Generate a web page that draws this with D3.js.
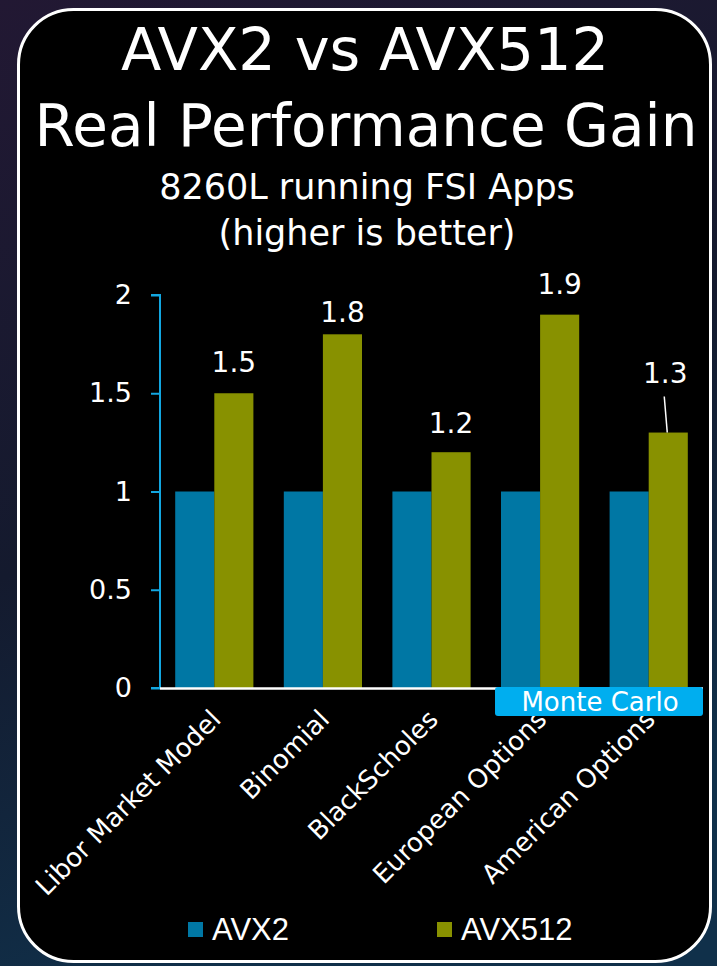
<!DOCTYPE html>
<html>
<head>
<meta charset="utf-8">
<script src="https://cdn.jsdelivr.net/npm/d3@7"></script>
<style>
  html, body { margin: 0; padding: 0; background: #120f22; }
  svg { display: block; }
</style>
</head>
<body>
<div id="chart"></div>
<script>
// chart values
var categories = ['Libor Market Model', 'Binomial', 'BlackScholes', 'European Options', 'American Options'];
var seriesNames = ['AVX2', 'AVX512'];
var avx2 = [1, 1, 1, 1, 1];
var avx512 = [1.5, 1.8, 1.2, 1.9, 1.3];
var yTicks = [0, 0.5, 1, 1.5, 2];
var groupName = 'Monte Carlo';
var groupCats = ['European Options', 'American Options'];

var W = 717, H = 966;
var colors = { AVX2: '#0077a4', AVX512: '#889100' };
var axisColor = '#12a6e0';
var font = '"DejaVu Sans", sans-serif';

var svg = d3.select('#chart').append('svg')
  .attr('width', W)
  .attr('height', H);

// backdrop behind the card
var defs = svg.append('defs');
var grad = defs.append('linearGradient')
  .attr('id', 'bg').attr('x1', 0).attr('y1', 0).attr('x2', 0.3).attr('y2', 1);
grad.append('stop').attr('offset', '0%').attr('stop-color', '#221833');
grad.append('stop').attr('offset', '55%').attr('stop-color', '#141a2e');
grad.append('stop').attr('offset', '100%').attr('stop-color', '#10304a');
svg.append('rect').attr('width', W).attr('height', H).attr('fill', 'url(#bg)');

// card
svg.append('rect')
  .attr('x', 18.5).attr('y', 9.5)
  .attr('width', 692).attr('height', 952)
  .attr('rx', 55).attr('ry', 55)
  .attr('fill', '#000')
  .attr('stroke', '#fff')
  .attr('stroke-width', 3);

// titles
var cx = 365;
svg.append('text').attr('x', cx).attr('y', 70)
  .attr('text-anchor', 'middle').attr('fill', '#fff')
  .style('font-family', font).style('font-size', '59px')
  .text('AVX2 vs AVX512');
svg.append('text').attr('x', cx + 1).attr('y', 146)
  .attr('text-anchor', 'middle').attr('fill', '#fff')
  .style('font-family', font).style('font-size', '58px')
  .text('Real Performance Gain');
svg.append('text').attr('x', cx + 2).attr('y', 199)
  .attr('text-anchor', 'middle').attr('fill', '#fff')
  .style('font-family', font).style('font-size', '35px')
  .text('8260L running FSI Apps');
svg.append('text').attr('x', cx + 2).attr('y', 245)
  .attr('text-anchor', 'middle').attr('fill', '#fff')
  .style('font-family', font).style('font-size', '35px')
  .text('(higher is better)');

// scales
var x = d3.scaleBand()
  .domain(categories)
  .range([160, 703])
  .paddingInner(0.28)
  .paddingOuter(0.14);
var x1 = d3.scaleBand()
  .domain(seriesNames)
  .range([0, x.bandwidth()]);
var y = d3.scaleLinear()
  .domain([0, 2])
  .range([688, 295]);

// y axis
var yAxis = svg.append('g')
  .attr('transform', 'translate(160,0)')
  .call(d3.axisLeft(y).tickValues(yTicks).tickSize(9).tickPadding(19)
    .tickFormat(function(d){ return String(d); }));
yAxis.select('.domain').attr('stroke', axisColor).attr('stroke-width', 2)
  .attr('d', 'M-9,' + y(2) + 'H0V' + y(0) + 'H-9');
yAxis.selectAll('.tick line').attr('stroke', axisColor).attr('stroke-width', 2);
yAxis.selectAll('.tick text')
  .attr('fill', '#fff')
  .style('font-family', font).style('font-size', '27px');

// bars
var rows = categories.map(function(c, i){
  return { cat: c, values: [ { s: 'AVX2', v: avx2[i] }, { s: 'AVX512', v: avx512[i] } ] };
});
var groups = svg.append('g').selectAll('g.grp').data(rows).enter()
  .append('g').attr('class', 'grp')
  .attr('transform', function(d){ return 'translate(' + x(d.cat) + ',0)'; });
groups.selectAll('rect').data(function(d){ return d.values; }).enter()
  .append('rect')
  .attr('x', function(d){ return x1(d.s); })
  .attr('y', function(d){ return y(d.v); })
  .attr('width', x1.bandwidth())
  .attr('height', function(d){ return y(0) - y(d.v); })
  .attr('fill', function(d){ return colors[d.s]; });

// baseline
svg.append('line')
  .attr('x1', 160).attr('x2', 703)
  .attr('y1', y(0) + 0.5).attr('y2', y(0) + 0.5)
  .attr('stroke', '#fff').attr('stroke-width', 2.5);

// value labels on AVX512 bars
var labelLift = [21, 12, 19, 21, 50];
avx512.forEach(function(v, i){
  var bx = x(categories[i]) + x1('AVX512') + x1.bandwidth() / 2;
  var by = y(v) - labelLift[i];
  if (i == 4) bx -= 3;
  svg.append('text')
    .attr('x', bx).attr('y', by)
    .attr('text-anchor', 'middle').attr('fill', '#fff')
    .style('font-family', font).style('font-size', '28px')
    .text(String(v));
  if (labelLift[i] > 30){
    svg.append('line')
      .attr('x1', bx - 1).attr('y1', by + 14)
      .attr('x2', bx + 2).attr('y2', y(v))
      .attr('stroke', '#fff').attr('stroke-width', 1.5);
  }
});

// x labels, rotated
svg.append('g').selectAll('text').data(categories).enter()
  .append('text')
  .attr('transform', function(d){
    return 'translate(' + (x(d) + x.bandwidth() / 2 + 8) + ',' + 721 + ') rotate(-45)';
  })
  .attr('text-anchor', 'end')
  .attr('fill', '#fff')
  .style('font-family', font).style('font-size', '26px')
  .text(function(d){ return d; });

// Monte Carlo group tag
var gx0 = x(groupCats[0]) - 6;
var gx1 = x.range()[1];
svg.append('rect')
  .attr('x', gx0).attr('y', y(0) - 1)
  .attr('width', gx1 - gx0).attr('height', 29)
  .attr('rx', 3)
  .attr('fill', '#00aeef');
svg.append('text')
  .attr('x', (gx0 + gx1) / 2 + 1).attr('y', y(0) + 23)
  .attr('text-anchor', 'middle').attr('fill', '#fff')
  .style('font-family', font).style('font-size', '26px')
  .text(groupName);

// legend
var legendX = [188, 437];
var legend = svg.append('g').selectAll('g').data(seriesNames).enter()
  .append('g')
  .attr('transform', function(d, i){ return 'translate(' + legendX[i] + ',922)'; });
legend.append('rect')
  .attr('width', 15).attr('height', 15)
  .attr('fill', function(d){ return colors[d]; });
legend.append('text')
  .attr('x', 24).attr('y', 18)
  .attr('fill', '#fff')
  .style('font-family', '"Liberation Sans", Arial, sans-serif').style('font-size', '31px')
  .text(function(d){ return d; });
</script>
</body>
</html>
